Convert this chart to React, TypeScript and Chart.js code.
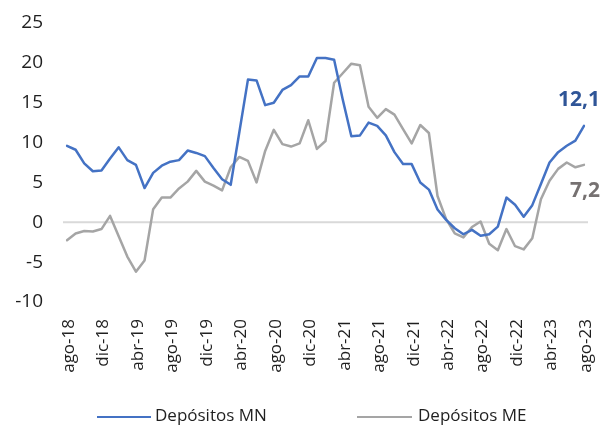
import React, { useEffect, useRef } from "react";
import { Chart, registerables } from "chart.js";

Chart.register(...registerables);

const categories = [
  "ago-18", "sep-18", "oct-18", "nov-18", "dic-18", "ene-19", "feb-19", "mar-19", "abr-19", "may-19", "jun-19", "jul-19",
  "ago-19", "sep-19", "oct-19", "nov-19", "dic-19", "ene-20", "feb-20", "mar-20", "abr-20", "may-20", "jun-20", "jul-20",
  "ago-20", "sep-20", "oct-20", "nov-20", "dic-20", "ene-21", "feb-21", "mar-21", "abr-21", "may-21", "jun-21", "jul-21",
  "ago-21", "sep-21", "oct-21", "nov-21", "dic-21", "ene-22", "feb-22", "mar-22", "abr-22", "may-22", "jun-22", "jul-22",
  "ago-22", "sep-22", "oct-22", "nov-22", "dic-22", "ene-23", "feb-23", "mar-23", "abr-23", "may-23", "jun-23", "jul-23",
  "ago-23",
];

const depositosMN = [
  9.6, 9.1, 7.4, 6.4, 6.5, 8.0, 9.4, 7.8, 7.2, 4.3, 6.2, 7.1,
  7.6, 7.8, 9.0, 8.7, 8.3, 6.8, 5.4, 4.7, 11.3, 17.9, 17.8, 14.7,
  15.0, 16.6, 17.2, 18.3, 18.3, 20.6, 20.6, 20.4, 15.4, 10.8, 10.9, 12.5,
  12.1, 10.9, 8.8, 7.3, 7.3, 5.0, 4.1, 1.6, 0.3, -0.75, -1.5, -0.95,
  -1.7, -1.5, -0.55, 3.1, 2.2, 0.7, 2.15, 4.8, 7.5, 8.8, 9.6, 10.25,
  12.1,
];

const depositosME = [
  -2.25, -1.4, -1.1, -1.15, -0.85, 0.8, -1.75, -4.3, -6.2, -4.8, 1.65, 3.1,
  3.1, 4.25, 5.1, 6.45, 5.1, 4.6, 4.0, 6.9, 8.2, 7.7, 5.0, 8.95,
  11.6, 9.8, 9.5, 9.9, 12.8, 9.2, 10.2, 17.5, 18.7, 19.9, 19.7, 14.5,
  13.1, 14.2, 13.5, 11.7, 9.9, 12.2, 11.2, 3.3, 0.4, -1.4, -1.9, -0.6,
  0.1, -2.7, -3.5, -0.85, -3.0, -3.4, -2.0, 2.9, 5.2, 6.7, 7.5, 6.9,
  7.2,
];

const seriesNames = ["Depósitos MN", "Depósitos ME"];
const lastLabels = ["12,1", "7,2"];
const yMin = -10;
const yMax = 25;
const yStep = 5;
const xLabelEvery = 4;

const BLUE = "#4472C4";
const GRAY = "#A5A5A5";
const BLUE_LABEL = "#2F5597";
const GRAY_LABEL = "#767171";
const FONT = "'Open Sans', 'Noto Sans', sans-serif";

export default function App() {
  const ref = useRef<HTMLCanvasElement | null>(null);

  useEffect(() => {
    if (!ref.current) return;

    const zeroLine = {
      id: "zeroLine",
      beforeDatasetsDraw(chart: any) {
        const { ctx, chartArea, scales } = chart;
        const y = scales.y.getPixelForValue(0);
        ctx.save();
        ctx.strokeStyle = "#D9D9D9";
        ctx.lineWidth = 2;
        ctx.beginPath();
        ctx.moveTo(chartArea.left - 4, y);
        ctx.lineTo(chartArea.right + 4, y);
        ctx.stroke();
        ctx.restore();
      },
    };

    const endLabels = {
      id: "endLabels",
      afterDatasetsDraw(chart: any) {
        const { ctx } = chart;
        ctx.save();
        ctx.font = `bold 21px ${FONT}`;
        ctx.textAlign = "right";
        ctx.textBaseline = "middle";
        chart.data.datasets.forEach((ds: any, i: number) => {
          const meta = chart.getDatasetMeta(i);
          const pt = meta.data[meta.data.length - 1];
          if (!pt) return;
          ctx.fillStyle = i === 0 ? BLUE_LABEL : GRAY_LABEL;
          const dy = i === 0 ? -26 : 26;
          ctx.fillText(lastLabels[i], pt.x + 16, pt.y + dy);
        });
        ctx.restore();
      },
    };

    const chart = new Chart(ref.current, {
      type: "line",
      data: {
        labels: categories,
        datasets: [
          {
            label: seriesNames[0],
            data: depositosMN,
            borderColor: BLUE,
            backgroundColor: BLUE,
            borderWidth: 2.5,
            pointRadius: 0,
            tension: 0,
            fill: false,
            borderJoinStyle: "round",
            borderCapStyle: "round",
          },
          {
            label: seriesNames[1],
            data: depositosME,
            borderColor: GRAY,
            backgroundColor: GRAY,
            borderWidth: 2.5,
            pointRadius: 0,
            tension: 0,
            fill: false,
            borderJoinStyle: "round",
            borderCapStyle: "round",
          },
        ],
      },
      options: {
        responsive: false,
        animation: false,
        events: [],
        layout: { padding: { top: 23, right: 17, left: 0, bottom: 0 } },
        plugins: {
          legend: { display: false },
          tooltip: { enabled: false },
          title: { display: false },
        },
        scales: {
          x: {
            type: "category",
            offset: false,
            grid: { display: false, drawTicks: false },
            border: { display: false },
            ticks: {
              autoSkip: false,
              minRotation: 90,
              maxRotation: 90,
              padding: 17,
              labelOffset: 2,
              color: "#1f1f1f",
              font: { family: FONT, size: 17 },
              callback: (_v: any, idx: number) => (idx % xLabelEvery === 0 ? categories[idx] : ""),
            },
            afterFit: (s: any) => {
              s.height = 125;
              s.paddingLeft = 0;
              s.paddingRight = 0;
            },
          },
          y: {
            min: yMin,
            max: yMax,
            grid: { display: false, drawTicks: false },
            border: { display: false },
            ticks: {
              stepSize: yStep,
              padding: 24,
              color: "#1f1f1f",
              font: { family: FONT, size: 19 },
              callback: (v: any) => String(v),
            },
            afterFit: (s: any) => {
              s.width = 67;
              s.paddingTop = 0;
              s.paddingBottom = 0;
            },
          },
        },
      },
      plugins: [zeroLine, endLabels],
    });

    return () => chart.destroy();
  }, []);

  const legendText: React.CSSProperties = {
    position: "absolute",
    fontFamily: FONT,
    fontSize: 17,
    lineHeight: "20px",
    color: "#1f1f1f",
    top: 405,
    whiteSpace: "nowrap",
  };
  const legendLine = (left: number, width: number, color: string): React.CSSProperties => ({
    position: "absolute",
    left,
    width,
    top: 415.5,
    height: 2.5,
    background: color,
  });

  return (
    <div style={{ position: "fixed", left: 0, top: 0, width: 601, height: 427, background: "#fff", overflow: "hidden" }}>
      <canvas ref={ref} width={601} height={427} style={{ display: "block", width: 601, height: 427 }} />
      <div style={legendLine(97, 54, BLUE)} />
      <div style={{ ...legendText, left: 155 }}>{seriesNames[0]}</div>
      <div style={legendLine(357, 55, GRAY)} />
      <div style={{ ...legendText, left: 418 }}>{seriesNames[1]}</div>
    </div>
  );
}
